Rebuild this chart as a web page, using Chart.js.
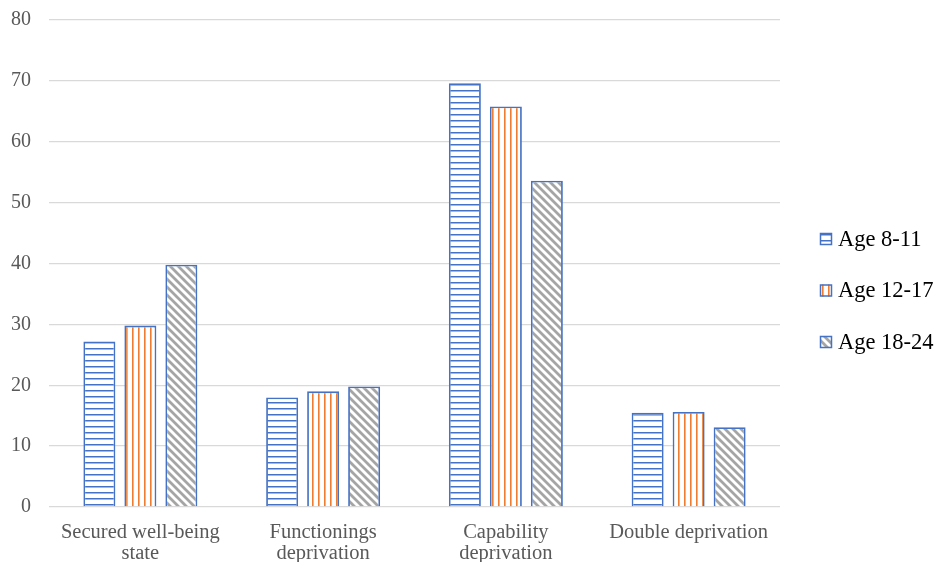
<!DOCTYPE html>
<html>
<head>
<meta charset="utf-8">
<script src="https://cdn.jsdelivr.net/npm/chart.js@4/dist/chart.umd.min.js"></script>
<style>
  html, body { margin: 0; padding: 0; background: #ffffff; }
  #wrap { width: 935px; height: 562px; position: relative; }
</style>
</head>
<body>
<div id="wrap"><canvas id="c" width="935" height="562"></canvas></div>
<script>
// Categories (multi-line labels wrap like the original axis text)
const categories = [
  ['Secured well-being', 'state'],
  ['Functionings', 'deprivation'],
  ['Capability', 'deprivation'],
  ['Double deprivation']
];

// Percentages by age group
const age8to11  = [27.2, 18.0, 69.6, 15.5];
const age12to17 = [29.8, 19.0, 65.8, 15.6];
const age18to24 = [39.8, 19.8, 53.6, 13.1];

const seriesNames = ['Age 8-11', 'Age 12-17', 'Age 18-24'];
const yTicks = { min: 0, max: 80, step: 10 };

const BLUE = '#4472C4', ORANGE = '#ED7D31', GRAY = '#A5A5A5';

// Hatched fills
function makePattern(kind) {
  const p = document.createElement('canvas');
  const ctx = p.getContext('2d');
  if (kind === 'horizontal') {
    p.width = 6; p.height = 6;
    ctx.fillStyle = '#ffffff'; ctx.fillRect(0, 0, 6, 6);
    ctx.fillStyle = BLUE; ctx.fillRect(0, 0, 6, 1.5);
  } else if (kind === 'vertical') {
    p.width = 6; p.height = 6;
    ctx.fillStyle = '#ffffff'; ctx.fillRect(0, 0, 6, 6);
    ctx.fillStyle = ORANGE; ctx.fillRect(0, 0, 1.6, 6);
  } else {
    const s = 8;
    p.width = s; p.height = s;
    ctx.fillStyle = '#ffffff'; ctx.fillRect(0, 0, s, s);
    ctx.strokeStyle = GRAY; ctx.lineWidth = 2.8;
    ctx.beginPath();
    ctx.moveTo(-s, 0); ctx.lineTo(s * 2, s * 3);
    ctx.moveTo(-s, -s); ctx.lineTo(s * 2, s * 2);
    ctx.moveTo(0, -s); ctx.lineTo(s * 2, s);
    ctx.moveTo(-s * 2, -s); ctx.lineTo(s, s * 2);
    ctx.stroke();
  }
  return p;
}
const mainCtx = document.getElementById('c').getContext('2d');
const fills = [
  mainCtx.createPattern(makePattern('horizontal'), 'repeat'),
  mainCtx.createPattern(makePattern('vertical'), 'repeat'),
  mainCtx.createPattern(makePattern('diagonal'), 'repeat')
];

// Legend drawn at the right side of the canvas
const sideLegend = {
  id: 'sideLegend',
  afterDraw(chart) {
    const ctx = chart.ctx;
    ctx.save();
    ctx.font = '22.5px "Liberation Serif", "Times New Roman", serif';
    ctx.textBaseline = 'middle';
    ctx.textAlign = 'left';
    chart.data.datasets.forEach((ds, i) => {
      const cy = 239 + i * 51.5;
      const bx = 820, by = cy - 6, bw = 12, bh = 12;
      ctx.fillStyle = ds.backgroundColor;
      ctx.fillRect(bx, by, bw, bh);
      ctx.strokeStyle = BLUE;
      ctx.lineWidth = 1.5;
      ctx.strokeRect(bx + 0.5, by + 0.5, bw - 1, bh - 1);
      ctx.fillStyle = '#000000';
      ctx.fillText(ds.label, 838, cy + 1);
    });
    ctx.restore();
  }
};

new Chart(document.getElementById('c'), {
  type: 'bar',
  data: {
    labels: categories,
    datasets: [age8to11, age12to17, age18to24].map((vals, i) => ({
      label: seriesNames[i],
      data: vals,
      backgroundColor: fills[i],
      borderColor: BLUE,
      borderWidth: 1.8,
      categoryPercentage: 0.673,
      barPercentage: 0.78
    }))
  },
  options: {
    responsive: false,
    animation: false,
    events: [],
    layout: { padding: { top: 20, right: 155, left: 0, bottom: 0 } },
    plugins: { legend: { display: false }, tooltip: { enabled: false } },
    scales: {
      x: {
        grid: { display: false },
        border: { display: false },
        ticks: {
          color: '#595959',
          padding: 7,
          maxRotation: 0,
          autoSkip: false,
          font: { family: '"Liberation Serif", "Times New Roman", serif', size: 20.5, lineHeight: 1.03 }
        },
        afterFit(scale) { scale.height = 55; }
      },
      y: {
        min: yTicks.min,
        max: yTicks.max,
        border: { display: false },
        grid: { color: '#D9D9D9', lineWidth: 1.3, drawTicks: false },
        ticks: {
          stepSize: yTicks.step,
          color: '#595959',
          padding: 18,
          font: { family: '"Liberation Serif", "Times New Roman", serif', size: 20 }
        },
        afterFit(scale) {
          scale.width = 49;
          scale.paddingTop = 0;
          scale.paddingBottom = 0;
        }
      }
    }
  },
  plugins: [sideLegend]
});
</script>
</body>
</html>
